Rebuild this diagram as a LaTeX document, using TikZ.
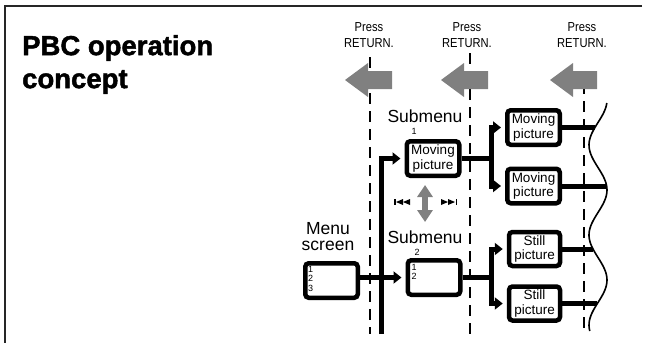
\documentclass[tikz,border=0pt]{standalone}
\usepackage{fontspec}
\setmainfont{Liberation Sans}
\newfontfamily\condfont[FakeStretch=0.86]{Liberation Sans}
\newfontfamily\titlefont[FakeBold=1.6]{Liberation Sans Bold}
\usetikzlibrary{arrows.meta,calc}
\definecolor{arrowgray}{RGB}{128,128,128}
\begin{document}
\begin{tikzpicture}[x=1pt,y=-1pt,
  scrbox/.style={draw=black, line width=4.5pt, rounded corners=3.5pt, fill=white,
    minimum width=52.5pt, minimum height=34.5pt, inner sep=0pt, align=center,
    font=\fontsize{13.5}{14.5}\selectfont},
  conn/.style={line width=5pt, draw=black},
  arr/.style={conn, -{Triangle[length=8pt,width=12pt]}, shorten >=4pt},
  dashln/.style={line width=2pt, dash pattern=on 11pt off 7pt},
  presslbl/.style={align=center, inner sep=0pt, font=\condfont\fontsize{13}{16}\selectfont},
  biglbl/.style={align=center, inner sep=0pt, font=\fontsize{17.5}{16}\selectfont},
  smallnum/.style={inner sep=0pt, font=\fontsize{9}{9.5}\selectfont, align=left},
  back arrow/.pic={\fill[arrowgray] (0,0) -- (23,-17) -- (23,-9) -- (47,-9) -- (47,9) -- (23,9) -- (23,17) -- cycle;}
]
\useasboundingbox (0,0) rectangle (660,343);
\fill[white] (0,0) rectangle (660,343);
% frame
\draw[line width=1.5pt, black!85] (642,6) -- (5,6) -- (5,343);
% title
\node[anchor=north west, inner sep=0pt, align=left, font=\titlefont\fontsize{27.5}{33}\selectfont] (title) at (22,35) {PBC operation\\concept};

% press labels
\node[presslbl] (p1) at (369,35) {Press\\RETURN.};
\node[presslbl] (p2) at (467,35) {Press\\RETURN.};
\node[presslbl] (p3) at (582,35) {Press\\RETURN.};

% dashed lines
\coordinate (d1t) at (370,57);  \coordinate (d1b) at (370,334);
\coordinate (d2t) at (470,53);  \coordinate (d2b) at (470,334);
\coordinate (d3t) at (584,83);  \coordinate (d3b) at (584,334);
\draw[dashln] (d1t) -- (d1b);
\draw[dashln] (d2t) -- (d2b);
\draw[dashln] (d3t) -- (d3b);

% gray return arrows
\pic at (345,80) {back arrow};
\pic at (441,80) {back arrow};
\pic at (550,80) {back arrow};

% wave
\draw[line width=1.6pt] plot[domain=103:331, samples=90, smooth] ({598+9*cos(4*(\x-190))},\x);

% labels
\node[biglbl] (menulbl) at (328,237) {Menu\\screen};
\node[biglbl] (sub1lbl) at (425,116) {Submenu};
\node[biglbl] (sub2lbl) at (425,237) {Submenu};
\node[smallnum] (n1) at (414,131) {1};
\node[smallnum] (n2) at (417,252) {2};

% boxes
\node[scrbox] (menu) at (331.5,280.5) {};
\node[scrbox] (sub1) at (433,158.5) {Moving\\picture};
\node[scrbox] (sub2) at (434,277.5) {};
\node[scrbox] (mv1) at (533.5,127.5) {Moving\\picture};
\node[scrbox] (mv2) at (533.5,186) {Moving\\picture};
\node[scrbox, minimum width=51pt, minimum height=34pt] (st1) at (534.5,249) {Still\\picture};
\node[scrbox, minimum width=51pt, minimum height=34pt] (st2) at (534.5,303.5) {Still\\picture};

\node[smallnum, anchor=north west] (menuitems) at ($(menu.north west)+(5,5)$) {1\\2\\3};
\node[smallnum, anchor=north west] (sub2items) at ($(sub2.north west)+(6,6)$) {1\\2};

% connectors
\coordinate (vbot) at (381,334);
\coordinate (b1) at (491,158.5);
\coordinate (b2) at (491,277.5);
\draw[arr] (vbot) |- (sub1.west);
\draw[arr] (menu.east |- sub2.west) -- (sub2.west);
\draw[conn] (sub1.east) -- (b1);
\draw[arr] (b1) |- (mv1.west);
\draw[arr] (b1) |- (mv2.west);
\draw[conn] (sub2.east) -- (b2);
\draw[arr] (b2) |- (st1.west);
\draw[arr] (b2) |- (st2.west);

% lines to wave
\coordinate (w1) at ({598+9*cos(4*(127.5-190))},127.5);
\coordinate (w2) at ({598+9*cos(4*(186-190))},186);
\coordinate (w3) at ({598+9*cos(4*(249-190))},249);
\coordinate (w4) at ({598+9*cos(4*(303.5-190))},303.5);
\draw[conn] (mv1.east) -- (w1);
\draw[conn] (mv2.east) -- (w2);
\draw[conn] (st1.east) -- (w3);
\draw[conn] (st2.east) -- (w4);

% skip symbols
\fill (394,199) rectangle (395.5,205);
\fill (396,202) -- (403,199) -- (403,205) -- cycle;
\fill (403,202) -- (410,199) -- (410,205) -- cycle;
\fill (441,199) -- (448,202) -- (441,205) -- cycle;
\fill (448,199) -- (455,202) -- (448,205) -- cycle;
\fill (455.5,199) rectangle (457,205);

% up/down gray arrow
\coordinate (ua) at (425,185);
\coordinate (da) at (425,222);
\draw[arrowgray, line width=6pt, {Triangle[length=12pt,width=15pt]}-{Triangle[length=12pt,width=15pt]}] (ua) -- (da);
\end{tikzpicture}
\end{document}
